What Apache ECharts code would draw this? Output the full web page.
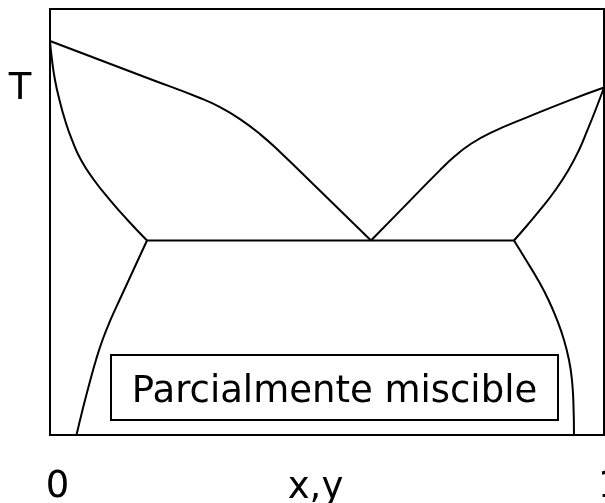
<!DOCTYPE html>
<html>
<head>
<meta charset="utf-8">
<script src="https://cdn.jsdelivr.net/npm/echarts@6/dist/echarts.min.js"></script>
<style>
  html, body { margin: 0; padding: 0; background: #fff; }
  #chart { width: 605px; height: 503px; }
</style>
</head>
<body>
<div id="chart"></div>
<script>
// composition x (0..1), temperature T (arbitrary 0..100)
const liquidusLeft = [
  [0, 92.49], [0.0903, 88.03], [0.1805, 83.57], [0.2708, 79.11], [0.3069, 76.97],
  [0.343, 74.15], [0.3791, 70.63], [0.4152, 66.43], [0.4874, 57.32], [0.5794, 45.66]
]
const liquidusRight = [
  [0.5794, 45.66], [0.6318, 52.6], [0.704, 62.18], [0.731, 65.47], [0.7581, 68.19],
  [0.7942, 70.87], [0.8664, 74.86], [0.9386, 78.62], [1, 81.57]
]
const solidusLeft = [
  [0, 92.49], [0.0036, 88.03], [0.009, 83.33], [0.0171, 78.64], [0.0271, 73.94],
  [0.0397, 69.25], [0.056, 64.55], [0.0794, 59.86], [0.1083, 55.16],
  [0.1399, 50.47], [0.1751, 45.66]
]
const solidusRight = [
  [1, 81.57], [0.9847, 76.29], [0.9702, 71.6], [0.9549, 66.9], [0.9359, 62.21],
  [0.9124, 57.51], [0.8845, 52.82], [0.8619, 49.3], [0.8375, 45.66]
]
const solubilityLeft = [
  [0.1751, 45.66], [0.1588, 41.08], [0.1422, 36.38], [0.1255, 31.69], [0.1092, 27.0],
  [0.0948, 22.3], [0.083, 17.61], [0.0704, 11.74], [0.0587, 5.87], [0.0478, 0]
]
const solubilityRight = [
  [0.8375, 45.66], [0.8592, 41.08], [0.8809, 36.38], [0.8998, 31.69], [0.9152, 27.0],
  [0.9278, 22.3], [0.9368, 17.61], [0.9422, 12.91], [0.9449, 7.04], [0.9458, 0]
]
const eutecticLine = [[0.1751, 45.66], [0.8375, 45.66]]

const chart = echarts.init(document.getElementById('chart'))

const curve = (data, smooth) => ({
  type: 'line',
  data: data,
  symbol: 'none',
  smooth: smooth,
  silent: true,
  lineStyle: { color: '#000', width: 2 }
})

const font = '37px "DejaVu Sans", Verdana, sans-serif'

const label = (text, x, y, align) => ({
  type: 'text',
  x: x,
  y: y,
  style: { text: text, font: font, fill: '#000', align: align || 'center', verticalAlign: 'middle' }
})

const option = {
  animation: false,
  grid: {
    left: 50,
    top: 9,
    right: 1,
    bottom: 68,
    show: true,
    borderColor: '#000',
    borderWidth: 2,
    backgroundColor: 'transparent'
  },
  xAxis: {
    type: 'value',
    min: 0,
    max: 1,
    show: false
  },
  yAxis: {
    type: 'value',
    min: 0,
    max: 100,
    show: false
  },
  series: [
    curve(liquidusLeft, 0.5),
    curve(liquidusRight, 0.5),
    curve(solidusLeft, 0.5),
    curve(solidusRight, 0.5),
    curve(solubilityLeft, 0.5),
    curve(solubilityRight, 0.5),
    curve(eutecticLine, false)
  ],
  graphic: [
    label('T', 20, 89),
    label('0', 57.5, 487),
    label('x,y', 315.5, 488),
    label('1', 598, 487, 'left'),
    {
      type: 'rect',
      shape: { x: 111, y: 355, width: 447, height: 65 },
      style: { fill: '#fff', stroke: '#000', lineWidth: 2 }
    },
    label('Parcialmente miscible', 334.5, 392.5)
  ]
}

chart.setOption(option)
</script>
</body>
</html>
